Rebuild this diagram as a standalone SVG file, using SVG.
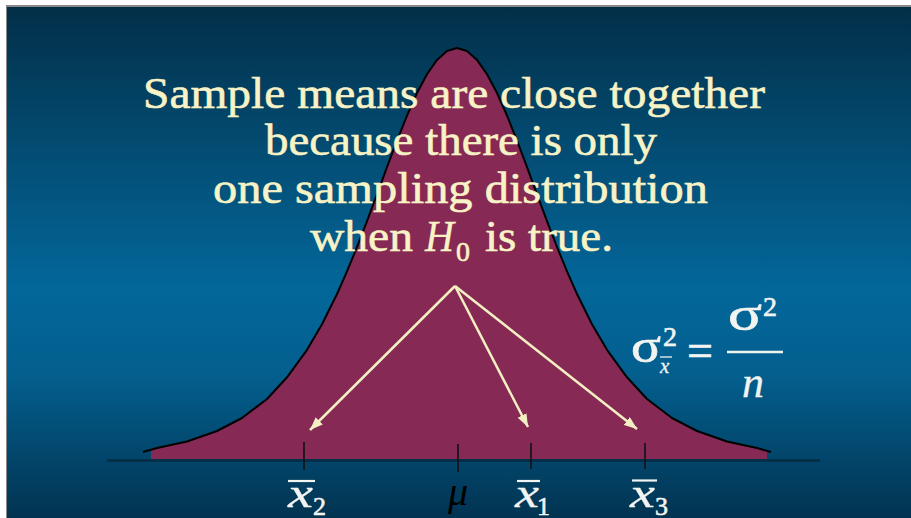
<svg xmlns="http://www.w3.org/2000/svg" width="911" height="518" viewBox="0 0 911 518">
<defs>
<linearGradient id="bg" x1="0" y1="0" x2="0" y2="1">
<stop offset="0" stop-color="#022F48"/>
<stop offset="0.22" stop-color="#03466A"/>
<stop offset="0.55" stop-color="#03679A"/>
<stop offset="0.72" stop-color="#035F8E"/>
<stop offset="1" stop-color="#023351"/>
</linearGradient>
<marker id="ah" markerWidth="14" markerHeight="10" refX="13" refY="5" orient="auto" markerUnits="userSpaceOnUse">
<path d="M0,0 L13,5 L0,10 Z" fill="#F4EFC2"/>
</marker>
<style>
.t{font-family:"Liberation Serif","Times New Roman",serif;fill:#F8F3C6;stroke:#F8F3C6;stroke-width:0.6;font-size:44px}
.m{font-family:"Liberation Serif","Times New Roman",serif;fill:#F2F4F2;stroke:#F2F4F2;stroke-width:0.6}
.i{font-style:italic;stroke-width:0.3}
.tick{stroke:#111;stroke-width:1.6}
.arr{stroke:#F4EFC2;stroke-width:2.5;fill:none;marker-end:url(#ah)}
</style>
</defs>
<rect x="0" y="0" width="911" height="518" fill="#fff"/>
<rect x="6" y="5" width="905" height="513" fill="#8a8a8a"/>
<rect x="7" y="7" width="904" height="511" fill="url(#bg)"/>

<g id="curve">
<path d="M151,459 L151,448.5 L157,448 L187,441.5 L217,431 L242,418 L267,399 L287,377.3 L307,349.8 L322,324.2 L337,294 L347,271.4 L357,247 L367,221.2 L377,194.3 L387,167.2 L397,140.6 L407,115.6 L417,93 L427,74.2 L437,59.9 L447,51 L457,48 L467,51 L477,59.9 L487,74.2 L497,93 L507,115.6 L517,140.6 L527,167.2 L537,194.3 L547,221.2 L557,247 L567,271.4 L577,294 L592,324.2 L607,349.8 L627,377.3 L647,399 L672,418 L697,431 L727,441.5 L757,448 L767,450 L767,459 Z" fill="#862A55"/>
<polyline points="143,452 157,448 187,441.5 217,431 242,418 267,399 287,377.3 307,349.8 322,324.2 337,294 347,271.4 357,247 367,221.2 377,194.3 387,167.2 397,140.6 407,115.6 417,93 427,74.2 437,59.9 447,51 457,48 467,51 477,59.9 487,74.2 497,93 507,115.6 517,140.6 527,167.2 537,194.3 547,221.2 557,247 567,271.4 577,294 592,324.2 607,349.8 627,377.3 647,399 672,418 697,431 727,441.5 757,448 771,452" fill="none" stroke="#000" stroke-width="2" stroke-linejoin="round"/>
</g>

<g id="axis">
<line x1="107" y1="460.5" x2="820" y2="460.5" stroke="#062C44" stroke-width="2.5"/>
<line class="tick" x1="304" y1="442" x2="304" y2="470"/>
<line class="tick" x1="458" y1="444" x2="458" y2="472"/>
<line class="tick" x1="531" y1="443" x2="531" y2="469"/>
<line class="tick" x1="645" y1="443" x2="645" y2="469"/>
</g>

<g id="caption">
<text class="t" x="143" y="108" textLength="622" lengthAdjust="spacingAndGlyphs">Sample means are close together</text>
<text class="t" x="265" y="155" textLength="392" lengthAdjust="spacingAndGlyphs">because there is only</text>
<text class="t" x="213" y="203" textLength="495" lengthAdjust="spacingAndGlyphs">one sampling distribution</text>
<text class="t" x="310" y="251" textLength="103" lengthAdjust="spacingAndGlyphs">when</text>
<text class="t i" x="425" y="251" textLength="29" lengthAdjust="spacingAndGlyphs">H</text>
<text class="t" x="456" y="261" style="font-size:28px">0</text>
<text class="t" x="485" y="251" textLength="128" lengthAdjust="spacingAndGlyphs">is true.</text>
</g>

<g id="connectors">
<line class="arr" x1="455" y1="286" x2="310" y2="430"/>
<line class="arr" x1="455" y1="286" x2="528" y2="427"/>
<line class="arr" x1="455" y1="286" x2="637" y2="429"/>
</g>

<g id="formula">
<text class="m" x="631" y="362" style="font-size:48px" textLength="30" lengthAdjust="spacingAndGlyphs">σ</text>
<text class="m" x="663" y="346" style="font-size:28px">2</text>
<text class="m i" x="660" y="373" style="font-size:21px">x</text>
<line x1="660" y1="357" x2="672" y2="357" stroke="#F2F4F2" stroke-width="1.3"/>
<text class="m" x="687" y="366" style="font-size:46px">=</text>
<text class="m" x="728" y="330" style="font-size:48px" textLength="34" lengthAdjust="spacingAndGlyphs">σ</text>
<text class="m" x="763" y="316" style="font-size:28px">2</text>
<line x1="727" y1="352" x2="783" y2="352" stroke="#F2F4F2" stroke-width="2.5"/>
<text class="m i" x="742" y="397" style="font-size:44px">n</text>
</g>

<g id="labels">
<line x1="288" y1="481" x2="315" y2="481" stroke="#F2F4F2" stroke-width="2.2"/>
<text class="m i" x="288" y="507" style="font-size:42px" textLength="25" lengthAdjust="spacingAndGlyphs">x</text>
<text class="m" x="313" y="515" style="font-size:26px">2</text>
<text class="i" x="448" y="505" style="font-family:'Liberation Serif',serif;font-size:40px;fill:#000">μ</text>
<line x1="517" y1="481" x2="540" y2="481" stroke="#F2F4F2" stroke-width="2.2"/>
<text class="m i" x="515" y="507" style="font-size:42px" textLength="24" lengthAdjust="spacingAndGlyphs">x</text>
<text class="m" x="537" y="515" style="font-size:26px">1</text>
<line x1="632" y1="480.5" x2="657" y2="480.5" stroke="#F2F4F2" stroke-width="2.2"/>
<text class="m i" x="630" y="507" style="font-size:42px" textLength="25" lengthAdjust="spacingAndGlyphs">x</text>
<text class="m" x="655" y="515" style="font-size:26px">3</text>
</g>
</svg>
